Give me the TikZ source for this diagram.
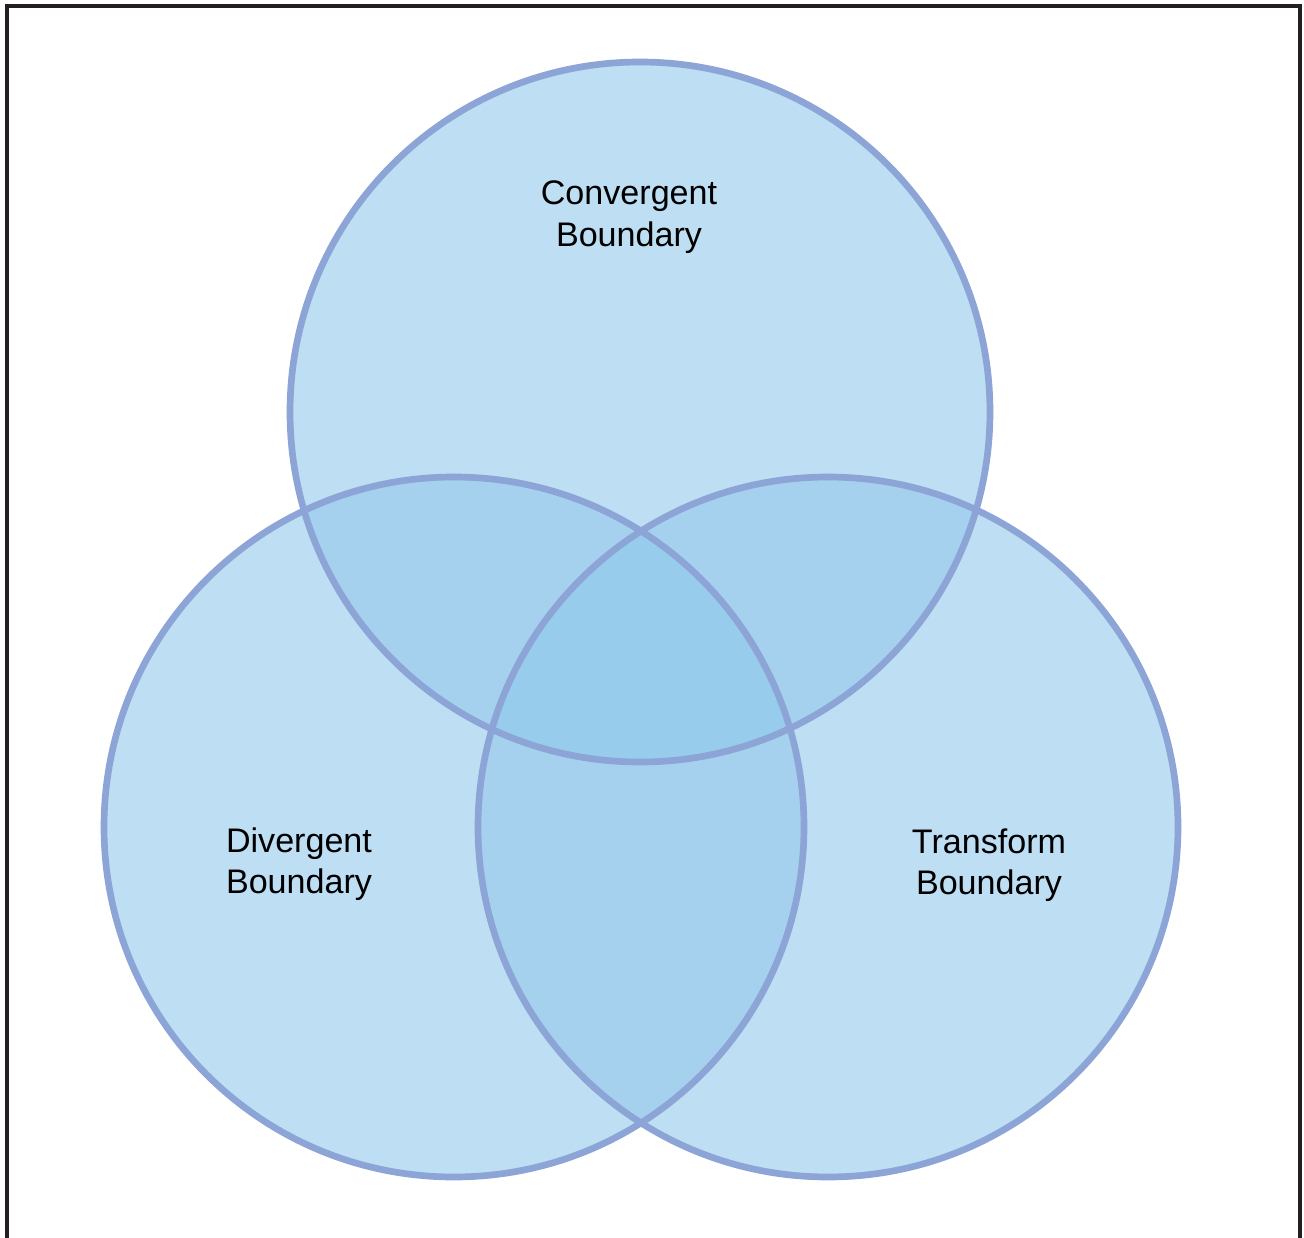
\documentclass[tikz,border=0pt]{standalone}
\usepackage{fontspec}
\setmainfont{Liberation Sans}
\usetikzlibrary{positioning}
\definecolor{setfill}{RGB}{190,222,243}
\definecolor{pairfill}{RGB}{165,209,238}
\definecolor{corefill}{RGB}{152,204,236}
\definecolor{setline}{RGB}{140,165,214}
\definecolor{framecol}{RGB}{35,31,32}

\begin{document}
\begin{tikzpicture}[
        set/.style={circle, draw=setline, line width=1.9pt, minimum size=7cm, inner sep=0pt},
        settext/.style={align=center, font=\fontsize{9.7}{11.8}\selectfont},
        frame/.style={draw=framecol, line width=1.1pt}
    ]
        \useasboundingbox (0,0) rectangle (13.04,12.37);

        % Frame
        \draw[frame] (0.07,-0.1) -- (0.07,12.31) -- (13.00,12.31) -- (13.00,-0.1);

        % Centres
        \coordinate (conv) at (6.40,8.25);
        \coordinate (div) at (4.54,4.10);
        \coordinate (trans) at (8.28,4.10);

        % Fills
        \fill[setfill] (conv) circle (3.5) (div) circle (3.5) (trans) circle (3.5);
        \begin{scope}
            \clip (conv) circle (3.5);
            \fill[pairfill] (div) circle (3.5) (trans) circle (3.5);
        \end{scope}
        \begin{scope}
            \clip (div) circle (3.5);
            \fill[pairfill] (trans) circle (3.5);
        \end{scope}
        \begin{scope}
            \clip (conv) circle (3.5);
            \clip (div) circle (3.5);
            \fill[corefill] (trans) circle (3.5);
        \end{scope}

        % Circles
        \node[set] (convset) at (conv) {};
        \node[set] (divset) at (div) {};
        \node[set] (transset) at (trans) {};

        % Labels
        \node[settext] (convtext) at (6.29,10.20) {Convergent\\Boundary};
        \node[settext] (divtext) at (2.99,3.73) {Divergent\\Boundary};
        \node[settext] (transtext) at (9.89,3.72) {Transform\\Boundary};
    \end{tikzpicture}
\end{document}
